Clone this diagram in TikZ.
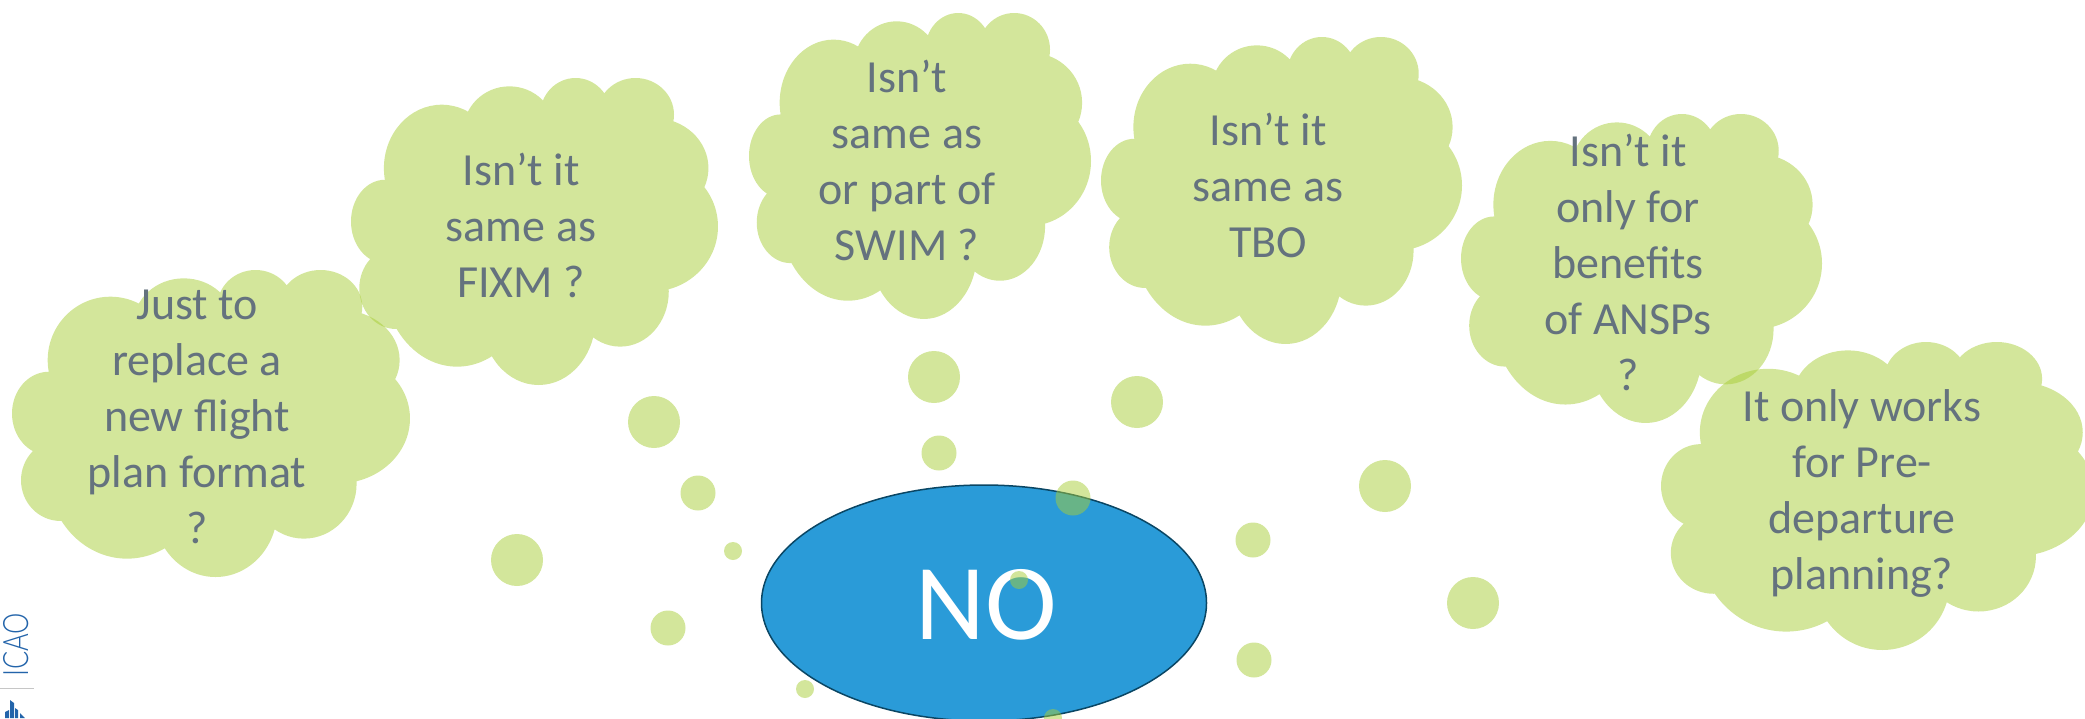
\documentclass[tikz,border=0pt]{standalone}
\usepackage{fontspec}
\usetikzlibrary{shapes.geometric}
\setmainfont{Carlito}
\newfontfamily\logofont{Lato Light}
\definecolor{cgreen}{RGB}{167,205,55}
\definecolor{ctext}{RGB}{100,114,126}
\definecolor{cblue}{RGB}{42,155,216}
\definecolor{cedge}{RGB}{10,70,100}
\definecolor{clogo}{RGB}{35,100,170}
\tikzset{
  blob/.style={fill=cgreen,fill opacity=.5,draw=none},
  cloudtext/.style={text=ctext,align=center,inner sep=0pt,font=\fontsize{46}{56}\selectfont}
}
\newcommand{\cloudshape}[4]{%
  \begin{scope}[shift={(#1,#2)},xscale=#3/1193,yscale=#4/920,shift={(-35,-60)}]
    \path[blob]
      (600,500) ellipse [x radius=450,y radius=350]
      (330,330) ellipse [x radius=188,y radius=190]
      (550,220) ellipse [x radius=150,y radius=135]
      (765,170) ellipse [x radius=115,y radius=110]
      (960,170) ellipse [x radius=125,y radius=110]
      (1020,330) ellipse [x radius=177,y radius=150]
      (1010,505) ellipse [x radius=218,y radius=195]
      (910,700) ellipse [x radius=158,y radius=165]
      (645,780) ellipse [x radius=185,y radius=200]
      (380,660) ellipse [x radius=240,y radius=265]
      (180,690) ellipse [x radius=118,y radius=122]
      (145,490) ellipse [x radius=110,y radius=125];
  \end{scope}}
\begin{document}
\begin{tikzpicture}[x=1pt,y=-1pt]
\useasboundingbox (0,0) rectangle (2085,718);
% big ellipse
\node[draw=cedge,line width=1.5pt,fill=cblue,ellipse,minimum width=445pt,minimum height=236pt,inner sep=0pt] (no) at (984,603) {};
\node[text=white,inner sep=0pt,font=\fontsize{108}{108}\selectfont] (notext) at (986,605) {NO};
% clouds
\cloudshape{12}{270}{398}{307}
\cloudshape{351}{78}{367}{307}
\cloudshape{749}{13}{342}{306}
\cloudshape{1101}{37}{361}{307}
\cloudshape{1461}{114}{361}{309}
\cloudshape{1661}{342}{433}{308}
% bubbles
\foreach \x/\y/\r in {
  654/422/26, 698/493/17.5, 733/551/9, 517/560/26, 668/628/17.5,
  934/377/26, 939/453/17.5, 1073/498/17.5, 1019/580/9, 805/689/9, 1053/718/9,
  1137/402/26, 1253/540/17.5, 1254/660/17.5, 1385/486/26, 1473/603/26}
  \path[blob] (\x,\y) circle [radius=\r];
% texts
\node[cloudtext] (t1) at (197,417) {Just to\\replace a\\new flight\\plan format\\?};
\node[cloudtext] (t2) at (521,225) {Isn’t it\\same as\\FIXM ?};
\node[cloudtext] (t3) at (907,160) {Isn’t\\same as\\or part of\\SWIM ?};
\node[cloudtext] (t4) at (1268,185) {Isn’t it\\same as\\TBO};
\node[cloudtext] (t5) at (1628,262) {Isn’t it\\only for\\benefits\\of ANSPs\\?};
\node[cloudtext] (t6) at (1862,493) {It only works\\for Pre-\\departure\\planning?};
% logo
\node[rotate=90,text=clogo,inner sep=0pt,font=\logofont\fontsize{35}{35}\selectfont] (icao) at (16.5,645) {\scalebox{.77}[1]{ICAO}};
\coordinate (ruleL) at (0,688);
\coordinate (ruleR) at (34,688);
\draw[gray!45,line width=1pt] (ruleL) -- (ruleR);
\fill[clogo] (10,718) -- (10,700) -- (14,703) -- (14,718) -- cycle
  (15,718) -- (15,708) -- (18,710) -- (18,718) -- cycle
  (5,718) -- (5,712) -- (9,710) -- (9,718) -- cycle
  (20,718) -- (20,713) -- (25,718) -- cycle;
\end{tikzpicture}
\end{document}
